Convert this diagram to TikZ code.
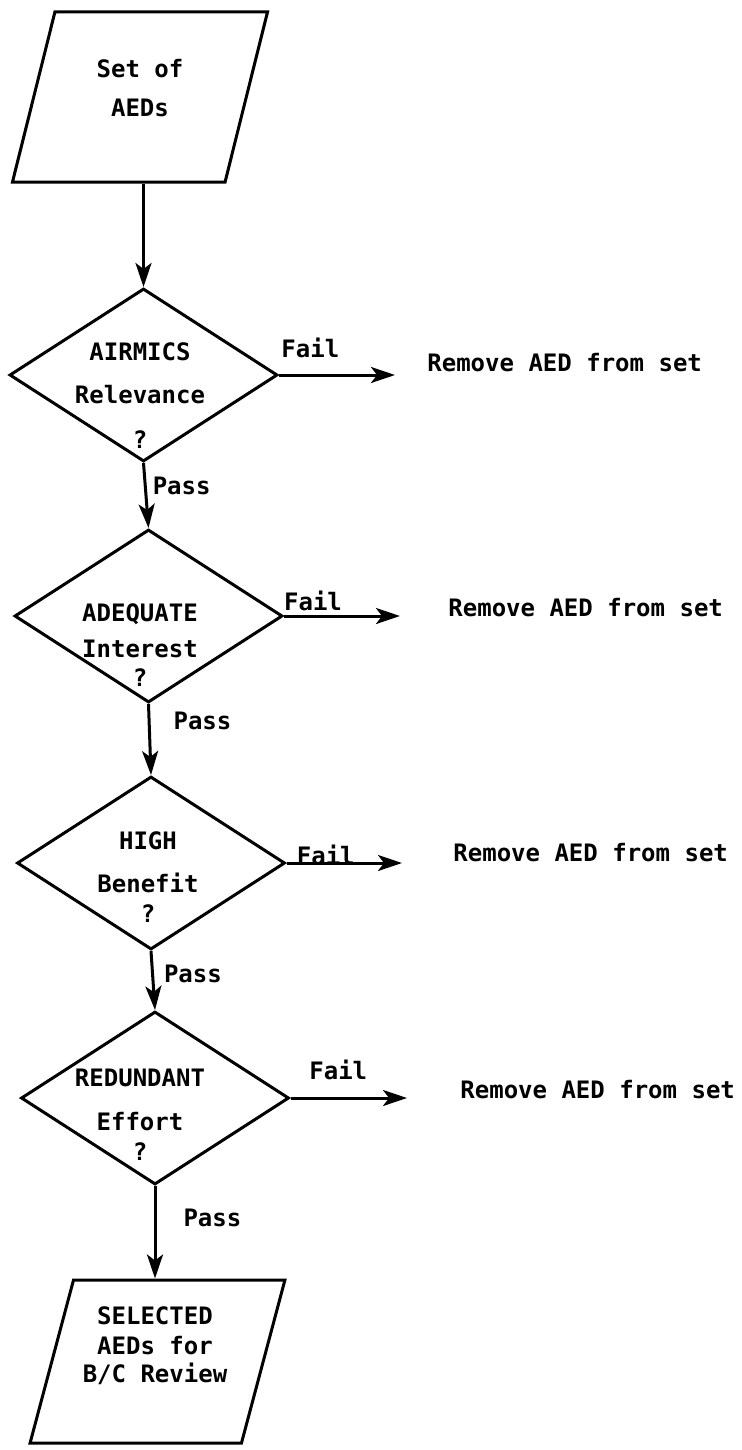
\documentclass[tikz,border=0pt]{standalone}
\usepackage{fontspec}
\usetikzlibrary{shapes.geometric,arrows.meta}
\newfontfamily\flowfont{DejaVu Sans Mono}

\tikzset{
  decision/.style={diamond, draw, line width=1.5pt, minimum width=134pt, minimum height=86.5pt, inner sep=0pt},
  io/.style={trapezium, trapezium left angle=76, trapezium right angle=104, trapezium stretches=true,
    draw, line width=1.5pt, minimum width=127.5pt, minimum height=85pt},
  flow/.style={line width=1.5pt, -{Stealth[length=12pt,width=8pt,inset=3pt]}},
  txt/.style={inner sep=0pt, align=center, font=\flowfont\bfseries\fontsize{12}{14}\selectfont},
}

\begin{document}
\begin{tikzpicture}[x=0.5pt, y=-0.5pt]
    \useasboundingbox (0,0) rectangle (742,1450);

    % boxes
    \node[io] (start) at (140,97) {};
    \node[decision] (d1) at (143.5,375) {};
    \node[decision] (d2) at (148.5,616) {};
    \node[decision] (d3) at (151,863) {};
    \node[decision] (d4) at (155,1098) {};
    \node[io, trapezium left angle=75.5, trapezium right angle=104.5, minimum height=81.5pt] (fin) at (157.5,1361.5) {};

    % texts in the boxes
    \node[txt] (t0) at (140,88) {Set of\\[5.5pt]AEDs};
    \node[txt] (t1) at (140,396) {AIRMICS\\[7.5pt]Relevance\\[8.5pt]?};
    \node[txt] (t2) at (140,645) {ADEQUATE\\[4pt]Interest\\[0.5pt]?};
    \node[txt] (t3) at (148,877) {HIGH\\[7.5pt]Benefit\\[1pt]?};
    \node[txt] (t4) at (140,1115) {REDUNDANT\\[8pt]Effort\\[1pt]?};
    \node[txt] (t5) at (155,1346) {SELECTED\\[1pt]AEDs for\\B/C Review};

    % fail ends
    \coordinate (e1) at (395,375);
    \coordinate (e2) at (400,616);
    \coordinate (e3) at (402,863);
    \coordinate (e4) at (407,1098);
    \node[txt, anchor=west] (r1) at (427,363) {Remove AED from set};
    \node[txt, anchor=west] (r2) at (448,608) {Remove AED from set};
    \node[txt, anchor=west] (r3) at (453,853) {Remove AED from set};
    \node[txt, anchor=west] (r4) at (460,1090) {Remove AED from set};

    % pass path
    \draw[flow] (d1.north |- start.south) -- (d1.north);
    \draw[flow] (d1.south) -- (d2.north) node[txt, pos=.35, right=3pt] (p1) {Pass};
    \draw[flow] (d2.south) -- (d3.north) node[txt, pos=.24, right=11.5pt] (p2) {Pass};
    \draw[flow] (d3.south) -- (d4.north) node[txt, pos=.38, right=5pt] (p3) {Pass};
    \draw[flow] (d4.south) -- (d4.south |- fin.north) node[txt, pos=.35, right=13.5pt] (p4) {Pass};

    % fail path
    \draw[flow] (d1.east) -- (e1) node[txt, pos=.27, yshift=13.5pt] (f1) {Fail};
    \draw[flow] (d2.east) -- (e2) node[txt, pos=.25, yshift=7.5pt] (f2) {Fail};
    \draw[flow] (d3.east) -- (e3) node[txt, pos=.34, yshift=4pt] (f3) {Fail};
    \draw[flow] (d4.east) -- (e4) node[txt, pos=.41, yshift=14pt] (f4) {Fail};
\end{tikzpicture}
\end{document}
